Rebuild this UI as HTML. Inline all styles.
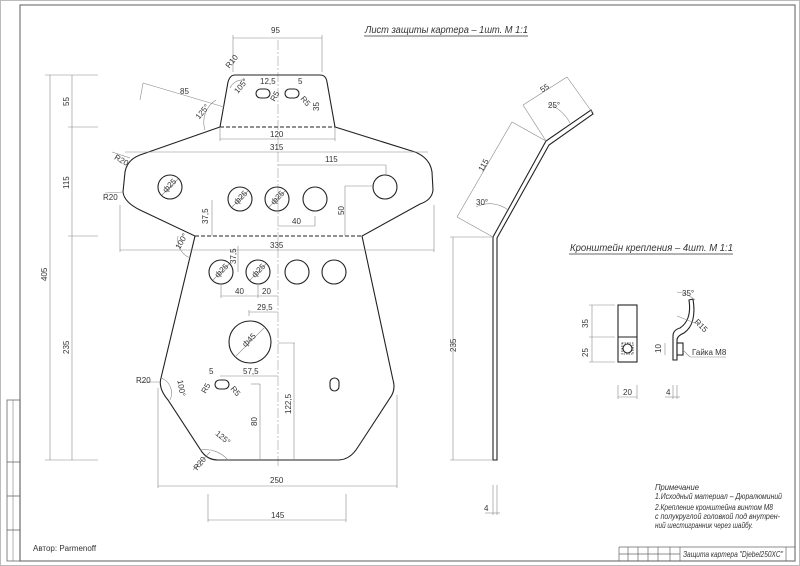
<!DOCTYPE html>
<html><head><meta charset="utf-8"><style>
html,body{margin:0;padding:0;background:#fff}
svg{display:block}
text{font-family:"Liberation Sans","DejaVu Sans",sans-serif;fill:#333;font-size:8px}
.c{fill:none;stroke:#222;stroke-width:1.1}
.d{fill:none;stroke:#888;stroke-width:0.6}
.t{font-size:7.5px}
</style></head><body>
<svg width="800" height="566" viewBox="0 0 800 566" xmlns="http://www.w3.org/2000/svg">
<rect x="0.5" y="0.5" width="799" height="565" fill="#fff" stroke="#bbb" stroke-width="1"/>
<rect x="20" y="5" width="775" height="556" fill="none" stroke="#777" stroke-width="1.2"/>
<rect x="7" y="400" width="13" height="161" fill="none" stroke="#666" stroke-width="0.8"/>
<line x1="7" y1="462" x2="20" y2="462" stroke="#666" stroke-width="0.8"/>
<line x1="7" y1="496" x2="20" y2="496" stroke="#666" stroke-width="0.8"/>
<line x1="7" y1="530" x2="20" y2="530" stroke="#666" stroke-width="0.8"/>
<line x1="13" y1="400" x2="13" y2="561" stroke="#666" stroke-width="0.5"/>

<text x="365" y="33" textLength="163" lengthAdjust="spacingAndGlyphs" style="font-size:10.5px;font-style:italic">Лист защиты картера – 1шт. М 1:1</text>
<line x1="364" y1="36" x2="528" y2="36" stroke="#333" stroke-width="0.7"/>
<text x="570" y="251" textLength="163" lengthAdjust="spacingAndGlyphs" style="font-size:10.5px;font-style:italic">Кронштейн крепления – 4шт. М 1:1</text>
<line x1="569" y1="254" x2="733" y2="254" stroke="#333" stroke-width="0.7"/>

<line x1="278" y1="40" x2="278" y2="466" stroke="#888" stroke-width="0.5" stroke-dasharray="10,2,2,2"/>

<path class="c" d="M235,75 L320,75 Q326,75 327,82 L335,127 L415,152 Q430,158 432,172 L433,190 Q432,200 420,204 L362,236 L393,380 Q396,390 390,398 L358,447 Q350,460 338,460 L218,460 Q208,460 202,452 L168,400 Q158,388 161,378 L195,236 L140,210 Q124,202 123,192 L125,172 Q127,160 140,155 L220,127 L228,82 Q230,75 235,75 Z"/>
<line x1="220" y1="127" x2="335" y2="127" stroke="#222" stroke-width="0.9" stroke-dasharray="4,2"/>
<line x1="195" y1="236" x2="362" y2="236" stroke="#222" stroke-width="0.9" stroke-dasharray="4,2"/>
<g class="c">
<circle cx="170" cy="187" r="12"/><circle cx="240" cy="199" r="12"/><circle cx="277" cy="199" r="12"/><circle cx="315" cy="199" r="12"/><circle cx="385" cy="187" r="12"/>
<circle cx="221" cy="272" r="12"/><circle cx="258" cy="272" r="12"/><circle cx="297" cy="272" r="12"/><circle cx="334" cy="272" r="12"/>
<circle cx="250" cy="342" r="21"/>
<rect x="256" y="89" width="14" height="9" rx="4.5"/><rect x="285" y="89" width="14" height="9" rx="4.5"/>
<rect x="215" y="380" width="14" height="9" rx="4.5"/>
<rect x="330" y="378" width="9" height="13" rx="4.5"/>
</g>
<g class="d" stroke="#333">
<line x1="162" y1="195" x2="178" y2="179"/><line x1="232" y1="207" x2="248" y2="191"/><line x1="269" y1="207" x2="285" y2="191"/>
<line x1="213" y1="280" x2="229" y2="264"/><line x1="250" y1="280" x2="266" y2="264"/><line x1="235" y1="357" x2="265" y2="327"/>
</g>
<g class="t">
<text x="163" y="190" transform="rotate(-45 168 188)">ф25</text>
<text x="234" y="202" transform="rotate(-45 239 200)">ф25</text>
<text x="271" y="202" transform="rotate(-45 276 200)">ф25</text>
<text x="215" y="275" transform="rotate(-45 220 273)">ф25</text>
<text x="252" y="275" transform="rotate(-45 257 273)">ф25</text>
<text x="242" y="343" transform="rotate(-45 249 341)">ф45</text>
</g>

<g class="d">
<line x1="233" y1="35" x2="233" y2="72"/><line x1="322" y1="35" x2="322" y2="72"/><line x1="233" y1="38" x2="322" y2="38"/>
<line x1="50" y1="75" x2="50" y2="460"/><line x1="72" y1="75" x2="72" y2="460"/>
<line x1="45" y1="75" x2="98" y2="75"/><line x1="68" y1="127" x2="98" y2="127"/><line x1="68" y1="236" x2="98" y2="236"/><line x1="45" y1="460" x2="98" y2="460"/>
<line x1="220" y1="128" x2="220" y2="141"/><line x1="335" y1="128" x2="335" y2="141"/><line x1="220" y1="139" x2="335" y2="139"/>
<line x1="125" y1="152" x2="428" y2="152"/>
<line x1="278" y1="165" x2="386" y2="165"/><line x1="386" y1="165" x2="386" y2="175"/>
<line x1="120" y1="250" x2="434" y2="250"/><line x1="120" y1="205" x2="120" y2="252"/><line x1="434" y1="205" x2="434" y2="252"/>
<line x1="345" y1="186" x2="373" y2="186"/><line x1="345" y1="186" x2="345" y2="236"/>
<line x1="212" y1="200" x2="212" y2="236"/>
<line x1="278" y1="226" x2="315" y2="226"/><line x1="315" y1="216" x2="315" y2="226"/>
<line x1="238" y1="246" x2="238" y2="272"/>
<line x1="221" y1="284" x2="221" y2="298"/><line x1="258" y1="284" x2="258" y2="298"/><line x1="221" y1="296" x2="278" y2="296"/>
<line x1="249" y1="310" x2="249" y2="316"/><line x1="249" y1="312" x2="278" y2="312"/>
<line x1="220" y1="376" x2="278" y2="376"/>
<line x1="278" y1="343" x2="295" y2="343"/><line x1="294" y1="343" x2="294" y2="460"/>
<line x1="251" y1="384" x2="260" y2="384"/><line x1="260" y1="384" x2="260" y2="460"/>
<line x1="158" y1="388" x2="158" y2="488"/><line x1="397" y1="395" x2="397" y2="488"/><line x1="158" y1="486" x2="397" y2="486"/>
<line x1="208" y1="494" x2="208" y2="522"/><line x1="346" y1="494" x2="346" y2="522"/><line x1="208" y1="520" x2="346" y2="520"/>
<line x1="143" y1="83" x2="224" y2="107"/><line x1="143" y1="83" x2="140" y2="100"/>
<path d="M216,100 A26,26 0 0 0 205,130"/>
<path d="M230,88 A14,14 0 0 1 244,80"/>
<path d="M178,236 A20,20 0 0 0 190,258"/>
<path d="M161,378 A16,16 0 0 1 170,400"/>
<path d="M200,450 A30,30 0 0 1 228,460"/>
<line x1="140" y1="382" x2="160" y2="382"/>
<line x1="112" y1="152" x2="130" y2="158"/>
<line x1="105" y1="193" x2="123" y2="192"/>
<line x1="193" y1="470" x2="210" y2="452"/>
</g>
<g class="t">
<text x="271" y="33">95</text>
<text x="62" y="105" transform="rotate(-90 66 102)">55</text>
<text x="60" y="186" transform="rotate(-90 66 183)">115</text>
<text x="60" y="351" transform="rotate(-90 66 348)">235</text>
<text x="38" y="278" transform="rotate(-90 44 275)">405</text>
<text x="270" y="137">120</text>
<text x="270" y="150">315</text>
<text x="325" y="162">115</text>
<text x="270" y="248">335</text>
<text x="200" y="222" transform="rotate(-90 205 219)">37,5</text>
<text x="228" y="262" transform="rotate(-90 233 259)">37,5</text>
<text x="338" y="215" transform="rotate(-90 341 212)">50</text>
<text x="292" y="224">40</text>
<text x="235" y="294">40</text>
<text x="262" y="294">20</text>
<text x="257" y="310">29,5</text>
<text x="243" y="374">57,5</text>
<text x="209" y="374">5</text>
<text x="283" y="412" transform="rotate(-90 288 409)">122,5</text>
<text x="250" y="425" transform="rotate(-90 254 422)">80</text>
<text x="270" y="483">250</text>
<text x="271" y="518">145</text>
<text x="260" y="84">12,5</text>
<text x="298" y="84">5</text>
<text x="312" y="110" transform="rotate(-90 316 107)">35</text>
<text x="180" y="94">85</text>
<text x="136" y="383">R20</text>
<text x="114" y="162" transform="rotate(30 120 160)">R20</text>
<text x="103" y="200">R20</text>
<text x="193" y="468" transform="rotate(-50 198 465)">R20</text>
<text x="225" y="66" transform="rotate(-50 230 63)">R10</text>
<text x="234" y="92" transform="rotate(-50 238 89)">105°</text>
<text x="195" y="117" transform="rotate(-50 200 114)">125°</text>
<text x="174" y="246" transform="rotate(-60 180 243)">100°</text>
<text x="176" y="386" transform="rotate(80 180 384)">100°</text>
<text x="215" y="438" transform="rotate(40 220 436)">125°</text>
<text x="270" y="100" transform="rotate(-60 274 97)">R5</text>
<text x="301" y="103" transform="rotate(50 305 100)">R5</text>
<text x="201" y="392" transform="rotate(-60 205 389)">R5</text>
<text x="231" y="393" transform="rotate(50 235 390)">R5</text>
</g>

<path class="c" d="M493,460 L493,237 L546,141 L591,110 L593,114 L549,145 L497,238 L497,460 Z"/>
<g class="d">
<line x1="453" y1="237" x2="453" y2="460"/><line x1="450" y1="237" x2="493" y2="237"/><line x1="450" y1="460" x2="493" y2="460"/>
<line x1="457" y1="217" x2="512" y2="122"/><line x1="457" y1="217" x2="493" y2="237"/><line x1="512" y1="122" x2="546" y2="141"/>
<line x1="523" y1="105" x2="567" y2="77"/><line x1="523" y1="105" x2="546" y2="141"/><line x1="567" y1="77" x2="592" y2="112"/>
<path d="M476,207 A30,30 0 0 1 508,210"/>
<path d="M548,104 A40,40 0 0 1 570,123"/>
<line x1="493" y1="485" x2="493" y2="515"/><line x1="497" y1="485" x2="497" y2="515"/><line x1="485" y1="513" x2="500" y2="513"/>
</g>
<g class="t">
<text x="449" y="351" transform="rotate(-90 453 348)">235</text>
<text x="478" y="170" transform="rotate(-60 482 167)">115</text>
<text x="540" y="91" transform="rotate(-33 544 88)">55</text>
<text x="476" y="205">30°</text>
<text x="548" y="108">25°</text>
<text x="484" y="511">4</text>
</g>

<rect class="c" x="618" y="305" width="19" height="57"/>
<line class="c" x1="618" y1="337" x2="637" y2="337"/>
<rect x="622" y="343" width="11" height="11" fill="none" stroke="#222" stroke-width="0.8" stroke-dasharray="1.5,1"/>
<circle class="c" cx="627.5" cy="348.5" r="4.5"/>
<path class="c" d="M673,360 L673,336 Q673,330 680,328 Q692,320 689,300 L693,299 Q697,324 684,333 Q677,336 677,340 L677,360 Z"/>
<rect class="c" x="677" y="343" width="6" height="12"/>
<g class="d">
<line x1="592" y1="305" x2="592" y2="362"/><line x1="589" y1="305" x2="615" y2="305"/><line x1="589" y1="337" x2="615" y2="337"/><line x1="589" y1="362" x2="615" y2="362"/>
<line x1="618" y1="385" x2="618" y2="399"/><line x1="637" y1="385" x2="637" y2="399"/><line x1="618" y1="397" x2="637" y2="397"/>
<line x1="673" y1="385" x2="673" y2="399"/><line x1="677" y1="385" x2="677" y2="399"/><line x1="665" y1="397" x2="680" y2="397"/>
<line x1="665" y1="343" x2="665" y2="355"/>
<line x1="683" y1="350" x2="690" y2="357"/><line x1="690" y1="357" x2="726" y2="357"/>
<path d="M677,292 A30,30 0 0 1 695,300"/>
<line x1="677" y1="316" x2="700" y2="325"/>
</g>
<g class="t">
<text x="581" y="327" transform="rotate(-90 585 324)">35</text>
<text x="581" y="356" transform="rotate(-90 585 353)">25</text>
<text x="623" y="395">20</text>
<text x="666" y="395">4</text>
<text x="654" y="352" transform="rotate(-90 658 349)">10</text>
<text x="692" y="355">Гайка М8</text>
<text x="682" y="296">35°</text>
<text x="695" y="326" transform="rotate(45 699 323)">R15</text>
</g>

<g style="font-size:8px;font-style:italic">
<text x="655" y="490" textLength="44" lengthAdjust="spacingAndGlyphs">Примечание</text>
<text x="655" y="499" textLength="127" lengthAdjust="spacingAndGlyphs">1.Исходный материал – Дюралюминий</text>
<text x="655" y="510" textLength="118" lengthAdjust="spacingAndGlyphs">2.Крепление кронштейна винтом М8</text>
<text x="655" y="519" textLength="125" lengthAdjust="spacingAndGlyphs">с полукруглой головкой под внутрен-</text>
<text x="655" y="528" textLength="98" lengthAdjust="spacingAndGlyphs">ний шестигранник через шайбу.</text>
</g>
<text x="33" y="551" style="font-size:8px">Автор: Parmenoff</text>

<g stroke="#666" stroke-width="0.7" fill="none">
<line x1="619" y1="547" x2="795" y2="547"/>
<line x1="619" y1="547" x2="619" y2="561"/>
<line x1="628" y1="547" x2="628" y2="561"/><line x1="638" y1="547" x2="638" y2="561"/><line x1="648" y1="547" x2="648" y2="561"/><line x1="658" y1="547" x2="658" y2="561"/><line x1="670" y1="547" x2="670" y2="561"/><line x1="680" y1="547" x2="680" y2="561"/>
<line x1="786" y1="547" x2="786" y2="561"/>
<line x1="619" y1="554" x2="680" y2="554"/>
</g>
<text x="683" y="557" textLength="100" lengthAdjust="spacingAndGlyphs" style="font-size:8.5px;font-style:italic">Защита картера "Djebel250XC"</text>
</svg>
</body></html>
